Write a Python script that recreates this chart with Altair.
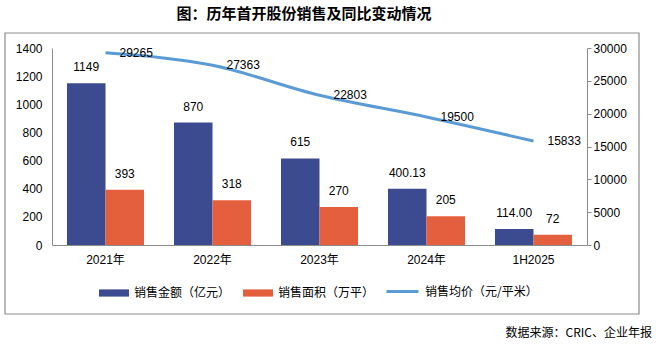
import altair as alt
import pandas as pd

years = ["2021年", "2022年", "2023年", "2024年", "1H2025"]
amount = [1149, 870, 615, 400.13, 114.00]
amount_labels = ["1149", "870", "615", "400.13", "114.00"]
area = [393, 318, 270, 205, 72]
area_labels = ["393", "318", "270", "205", "72"]
price = [29265, 27363, 22803, 19500, 15833]
price_labels = ["29265", "27363", "22803", "19500", "15833"]
series_names = ["销售金额（亿元）", "销售面积（万平）", "销售均价（元/平米）"]
colors = ["#3C4A8F", "#E35F3E", "#5B9BD5"]
left_ticks = [0, 200, 400, 600, 800, 1000, 1200, 1400]
right_ticks = [0, 5000, 10000, 15000, 20000, 25000, 30000]
title_text = "图：历年首开股份销售及同比变动情况"
source_text = "数据来源：CRIC、企业年报"

NUM_FONT = "Liberation Sans, Noto Sans CJK SC"
CJK_FONT = "Noto Sans CJK SC"
GRAY = "#8C8C8C"

bar_rows = []
for i, y in enumerate(years):
    bar_rows.append({"year": y, "series": series_names[0], "value": amount[i], "label": amount_labels[i]})
    bar_rows.append({"year": y, "series": series_names[1], "value": area[i], "label": area_labels[i]})
bar_df = pd.DataFrame(bar_rows)

line_df = pd.DataFrame({"year": years, "price": price, "label": price_labels,
                        "series": [series_names[2]] * len(years)})

x_enc = alt.X("year:N", sort=years,
              scale=alt.Scale(domain=years, paddingInner=0.28, paddingOuter=0.14),
              axis=alt.Axis(title=None, labelAngle=0, ticks=False, tickSize=0, labelPadding=9,
                            domainColor=GRAY, labelFont=NUM_FONT, labelFontSize=12,
                            labelColor="#000000"))
xoff = alt.XOffset("series:N", sort=series_names[:2],
                   scale=alt.Scale(domain=series_names[:2], paddingInner=0, paddingOuter=0))
y_left = alt.Y("value:Q", scale=alt.Scale(domain=[0, 1400], nice=False),
               axis=alt.Axis(title=None, values=left_ticks, format="d", ticks=False, tickSize=0,
                             labelPadding=10, domainColor=GRAY, labelFont=NUM_FONT, labelFontSize=12,
                             labelColor="#000000", grid=False))

bar_path = "M-1,-0.24H1V0.24H-1Z"

bars = alt.Chart(bar_df).mark_bar().encode(
    x=x_enc,
    xOffset=xoff,
    y=y_left,
    color=alt.Color("series:N",
                    scale=alt.Scale(domain=series_names[:2], range=colors[:2]),
                    legend=alt.Legend(orient="none", legendX=47, legendY=230, direction="horizontal",
                                      title=None, symbolType=bar_path, symbolSize=900,
                                      labelFont=CJK_FONT, labelFontSize=12, labelColor="#000000",
                                      labelOffset=5, columnPadding=12, padding=0, symbolStrokeWidth=0)),
)
bar_labels = alt.Chart(bar_df).mark_text(baseline="middle", dy=-16, font=NUM_FONT, fontSize=12,
                                         color="#000000").encode(
    x=x_enc, xOffset=xoff, y=y_left, text="label:N")
left = alt.layer(bars, bar_labels)

y_right = alt.Y("price:Q", scale=alt.Scale(domain=[0, 30000], nice=False),
                axis=alt.Axis(title=None, orient="right", values=right_ticks, format="d", ticks=True,
                              tickSize=4, tickColor=GRAY, labelPadding=2, domainColor=GRAY,
                              labelFont=NUM_FONT, labelFontSize=12, labelColor="#000000", grid=False))

line = alt.Chart(line_df).mark_line(strokeWidth=3, interpolate="monotone").encode(
    x=x_enc, y=y_right,
    stroke=alt.Stroke("series:N", scale=alt.Scale(domain=[series_names[2]], range=[colors[2]]),
                      legend=alt.Legend(orient="none", legendX=333, legendY=226, direction="horizontal",
                                        title=None, symbolType="stroke", symbolSize=1024,
                                        symbolStrokeWidth=3, labelFont=CJK_FONT, labelFontSize=12,
                                        labelColor="#000000", labelOffset=5, padding=0)),
)
line_labels = alt.Chart(line_df).mark_text(align="left", baseline="middle", dx=14, font=NUM_FONT,
                                           fontSize=12, color="#000000").encode(
    x=x_enc, y=y_right, text="label:N")
right = alt.layer(line, line_labels)

deco_df = pd.DataFrame({"title": [title_text], "source": [source_text]})
border = alt.Chart(deco_df).mark_rect(fill=None, stroke=GRAY, strokeWidth=1.2).encode(
    x=alt.value(-47), x2=alt.value(587), y=alt.value(-15), y2=alt.value(266))
title = alt.Chart(deco_df).mark_text(font=CJK_FONT, fontSize=15, fontWeight="bold", align="center",
                                     baseline="middle", color="#000000").encode(
    x=alt.value(252), y=alt.value(-34), text="title:N")
source = alt.Chart(deco_df).mark_text(font=CJK_FONT, fontSize=12, align="right", baseline="middle",
                                      color="#000000").encode(
    x=alt.value(600), y=alt.value(285), text="source:N")

chart = alt.layer(border, left, right, title, source).resolve_scale(y="independent").properties(
    width=535, height=197,
    autosize=alt.AutoSizeParams(type="none"),
    padding={"left": 52, "top": 48, "right": 75, "bottom": 106},
    background="#ffffff",
).configure_view(stroke=None)

chart.save("out.html", embed_options={"renderer": "svg", "actions": False})
